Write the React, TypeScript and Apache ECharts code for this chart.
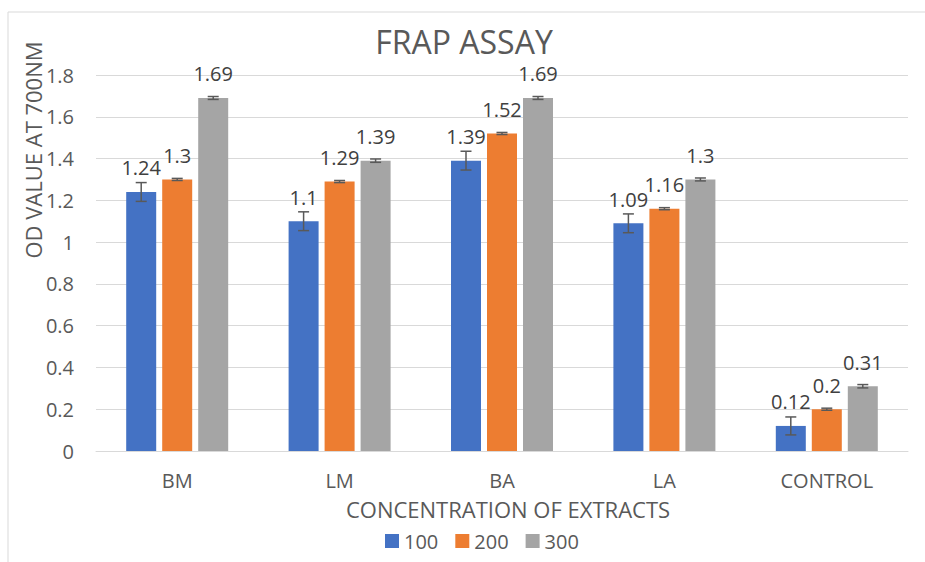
import React, { useEffect, useRef } from "react";
import * as echarts from "echarts";

const categories = ["BM", "LM", "BA", "LA", "CONTROL"];
const seriesNames = ["100", "200", "300"];
const values100 = [1.24, 1.1, 1.39, 1.09, 0.12];
const values200 = [1.3, 1.29, 1.52, 1.16, 0.2];
const values300 = [1.69, 1.39, 1.69, 1.3, 0.31];
const err100 = [0.045, 0.045, 0.045, 0.045, 0.043];
const err200 = [0.005, 0.005, 0.005, 0.005, 0.005];
const err300 = [0.007, 0.008, 0.007, 0.007, 0.008];
const colors = ["#4472C4", "#ED7D31", "#A5A5A5"];

const FONT = "'Open Sans', 'Noto Sans', sans-serif";

export default function App() {
  const ref = useRef<HTMLDivElement>(null);
  useEffect(() => {
    if (!ref.current) return;
    const chart = echarts.init(ref.current, null, { renderer: "svg" });
    const values = [values100, values200, values300];
    const errs = [err100, err200, err300];
    const barWidth = 30;
    const step = 36;

    const barSeries = seriesNames.map((name, i) => ({
      name,
      type: "bar",
      barWidth,
      barGap: "20%",
      data: values[i],
      itemStyle: { color: colors[i] },
      label: {
        show: true,
        position: "top",
        distance: 14,
        color: "#404040",
        fontSize: 20,
        fontFamily: FONT,
      },
      z: 2,
    }));

    const errSeries = seriesNames.map((name, i) => ({
      name: name + "-err",
      type: "custom",
      data: values[i].map((v, j) => [j, v, errs[i][j]]),
      encode: { x: 0, y: 1 },
      z: 5,
      silent: true,
      renderItem: (params: any, api: any) => {
        const c = api.value(0);
        const v = api.value(1);
        const e = api.value(2);
        const off = (i - 1) * step;
        const top = api.coord([c, v + e]);
        const bot = api.coord([c, v - e]);
        const x = top[0] + off;
        const cap = 5.5;
        const style = { stroke: "#595959", lineWidth: 1.5 };
        return {
          type: "group",
          children: [
            { type: "line", shape: { x1: x, y1: top[1], x2: x, y2: bot[1] }, style },
            { type: "line", shape: { x1: x - cap, y1: top[1], x2: x + cap, y2: top[1] }, style },
            { type: "line", shape: { x1: x - cap, y1: bot[1], x2: x + cap, y2: bot[1] }, style },
          ],
        };
      },
    }));

    chart.setOption({
      animation: false,
      backgroundColor: "#ffffff",
      textStyle: { fontFamily: FONT },
      grid: { left: 96, right: 17, top: 75, bottom: 111, containLabel: false },
      legend: {
        data: seriesNames,
        left: 380,
        top: 526,
        itemWidth: 14,
        itemHeight: 14,
        itemGap: 17,
        icon: "rect",
        textStyle: { color: "#595959", fontSize: 20, fontFamily: FONT },
      },
      xAxis: {
        type: "category",
        data: categories,
        axisLine: { show: true, lineStyle: { color: "#d9d9d9", width: 1 } },
        axisTick: { show: false },
        axisLabel: { color: "#595959", fontSize: 20, margin: 19, fontFamily: FONT },
      },
      yAxis: {
        type: "value",
        min: 0,
        max: 1.8,
        interval: 0.2,
        axisLine: { show: false },
        axisTick: { show: false },
        splitLine: { lineStyle: { color: "#d9d9d9", width: 1 } },
        axisLabel: { color: "#595959", fontSize: 20, margin: 22, fontFamily: FONT },
      },
      graphic: [
        {
          type: "rect",
          shape: { x: 8, y: 12, width: 1000, height: 1000 },
          style: { fill: "none", stroke: "#d9d9d9", lineWidth: 1 },
          silent: true,
          z: -10,
        },
        {
          type: "text",
          x: 464,
          y: 41,
          style: {
            text: "FRAP ASSAY",
            fill: "#595959",
            fontSize: 32,
            fontFamily: FONT,
            align: "center",
            verticalAlign: "middle",
          },
        },
        {
          type: "text",
          x: 33,
          y: 150,
          rotation: Math.PI / 2,
          style: {
            text: "OD VALUE AT 700NM",
            fill: "#595959",
            fontSize: 22,
            fontFamily: FONT,
            align: "center",
            verticalAlign: "middle",
          },
        },
        {
          type: "text",
          x: 508,
          y: 509,
          style: {
            text: "CONCENTRATION OF EXTRACTS",
            fill: "#595959",
            fontSize: 22,
            fontFamily: FONT,
            align: "center",
            verticalAlign: "middle",
          },
        },
      ],
      series: [...barSeries, ...errSeries],
    });
    return () => chart.dispose();
  }, []);
  return (
    <div
      ref={ref}
      style={{ position: "absolute", left: 0, top: 0, width: 925, height: 562 }}
    />
  );
}
